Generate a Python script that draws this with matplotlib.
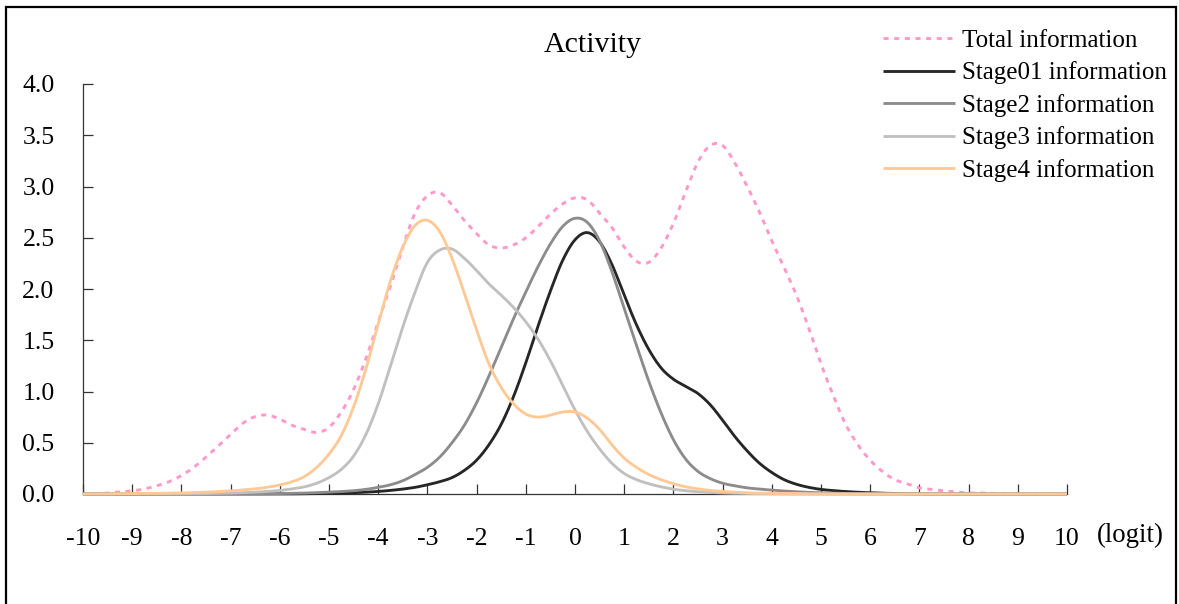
import numpy as np
import matplotlib
matplotlib.use("Agg")
import matplotlib.pyplot as plt
from matplotlib.patches import Rectangle

# Ability scale (logit), 0.25 step
theta = [round(-10 + 0.25 * i, 2) for i in range(81)]

total_info = [
    0.00, 0.00, 0.01, 0.02, 0.03, 0.05, 0.08, 0.12,            # -10 .. -8.25
    0.18, 0.26, 0.36, 0.47, 0.58, 0.69, 0.755, 0.77,          # -8 .. -6.25
    0.73, 0.67, 0.63, 0.60, 0.65, 0.80, 1.02, 1.32,           # -6 .. -4.25
    1.68, 2.03, 2.41, 2.74, 2.91, 2.94, 2.82, 2.67,           # -4 .. -2.25
    2.54, 2.43, 2.40, 2.43, 2.50, 2.61, 2.73, 2.83,           # -2 .. -0.25
    2.89, 2.87, 2.74, 2.60, 2.41, 2.27, 2.26, 2.40,           # 0 .. 1.75
    2.64, 2.95, 3.24, 3.40, 3.40, 3.23, 3.00, 2.75,           # 2 .. 3.75
    2.47, 2.21, 1.94, 1.62, 1.27, 0.96, 0.68, 0.48,           # 4 .. 5.75
    0.33, 0.22, 0.14, 0.10, 0.06, 0.045, 0.03, 0.02,          # 6 .. 7.75
    0.01, 0.01, 0.005, 0.0, 0.0, 0.0, 0.0, 0.0,               # 8 .. 9.75
    0.0,                                                       # 10
]

stage01_info = [
    0.0, 0.0, 0.0, 0.0, 0.0, 0.0, 0.0, 0.0,
    0.0, 0.0, 0.0, 0.0, 0.0, 0.0, 0.0, 0.0,
    0.0, 0.001, 0.002, 0.004, 0.006, 0.009, 0.013, 0.018,
    0.025, 0.035, 0.048, 0.065, 0.09, 0.12, 0.16, 0.23,
    0.33, 0.48, 0.68, 0.95, 1.28, 1.64, 1.98, 2.28,
    2.48, 2.55, 2.46, 2.24, 1.94, 1.65, 1.41, 1.23,
    1.12, 1.05, 0.98, 0.87, 0.72, 0.56, 0.42, 0.30,
    0.21, 0.14, 0.095, 0.065, 0.045, 0.033, 0.024, 0.017,
    0.012, 0.008, 0.005, 0.003, 0.002, 0.001, 0.0, 0.0,
    0.0, 0.0, 0.0, 0.0, 0.0, 0.0, 0.0, 0.0,
    0.0,
]

stage2_info = [
    0.0, 0.0, 0.0, 0.0, 0.0, 0.0, 0.0, 0.0,
    0.0, 0.0, 0.0, 0.0, 0.0, 0.0, 0.001, 0.002,
    0.004, 0.006, 0.009, 0.013, 0.018, 0.024, 0.032, 0.045,
    0.065, 0.09, 0.13, 0.19, 0.26, 0.36, 0.50, 0.67,
    0.89, 1.15, 1.43, 1.71, 1.97, 2.22, 2.44, 2.61,
    2.69, 2.65, 2.47, 2.17, 1.81, 1.45, 1.10, 0.79,
    0.53, 0.34, 0.22, 0.15, 0.105, 0.08, 0.06, 0.048,
    0.038, 0.029, 0.022, 0.016, 0.012, 0.008, 0.005, 0.003,
    0.002, 0.001, 0.0, 0.0, 0.0, 0.0, 0.0, 0.0,
    0.0, 0.0, 0.0, 0.0, 0.0, 0.0, 0.0, 0.0,
    0.0,
]

stage3_info = [
    0.0, 0.0, 0.0, 0.0, 0.0, 0.0, 0.0, 0.0,
    0.001, 0.002, 0.004, 0.006, 0.009, 0.013, 0.018, 0.025,
    0.035, 0.05, 0.07, 0.105, 0.16, 0.24, 0.37, 0.58,
    0.88, 1.25, 1.63, 1.97, 2.26, 2.38, 2.39, 2.30,
    2.18, 2.05, 1.94, 1.82, 1.68, 1.51, 1.30, 1.06,
    0.82, 0.61, 0.44, 0.30, 0.20, 0.14, 0.10, 0.07,
    0.047, 0.032, 0.022, 0.015, 0.01, 0.007, 0.005, 0.004,
    0.003, 0.002, 0.001, 0.0, 0.0, 0.0, 0.0, 0.0,
    0.0, 0.0, 0.0, 0.0, 0.0, 0.0, 0.0, 0.0,
    0.0, 0.0, 0.0, 0.0, 0.0, 0.0, 0.0, 0.0,
    0.0,
]

stage4_info = [
    0.0, 0.001, 0.002, 0.003, 0.004, 0.005, 0.007, 0.008,
    0.01, 0.014, 0.018, 0.024, 0.03, 0.04, 0.05, 0.066,
    0.088, 0.12, 0.17, 0.26, 0.39, 0.57, 0.85, 1.22,
    1.66, 2.08, 2.41, 2.62, 2.67, 2.56, 2.30, 1.96,
    1.60, 1.27, 1.04, 0.88, 0.78, 0.75, 0.77, 0.80,
    0.80, 0.74, 0.63, 0.48, 0.35, 0.26, 0.19, 0.14,
    0.10, 0.07, 0.05, 0.035, 0.025, 0.018, 0.012, 0.008,
    0.006, 0.004, 0.003, 0.002, 0.001, 0.0, 0.0, 0.0,
    0.0, 0.0, 0.0, 0.0, 0.0, 0.0, 0.0, 0.0,
    0.0, 0.0, 0.0, 0.0, 0.0, 0.0, 0.0, 0.0,
    0.0,
]

series_labels = ["Total information", "Stage01 information", "Stage2 information",
                 "Stage3 information", "Stage4 information"]
series_colors = ["#ff99cc", "#262626", "#8c8c8c", "#c0c0c0", "#ffc996"]

x_ticks = list(range(-10, 11))
y_ticks = [0.0, 0.5, 1.0, 1.5, 2.0, 2.5, 3.0, 3.5, 4.0]


def smooth(x, y, n=12):
    """Catmull-Rom smoothing through the given points (spreadsheet-style smoothed line)."""
    x = np.asarray(x, float)
    y = np.asarray(y, float)
    px = np.concatenate([[2 * x[0] - x[1]], x, [2 * x[-1] - x[-2]]])
    py = np.concatenate([[y[0]], y, [y[-1]]])
    xs, ys = [], []
    t = np.linspace(0, 1, n, endpoint=False)
    for i in range(1, len(px) - 2):
        p0, p1, p2, p3 = py[i - 1], py[i], py[i + 1], py[i + 2]
        q0, q1, q2, q3 = px[i - 1], px[i], px[i + 1], px[i + 2]
        t2, t3 = t * t, t * t * t
        ys.append(0.5 * (2 * p1 + (-p0 + p2) * t + (2 * p0 - 5 * p1 + 4 * p2 - p3) * t2
                         + (-p0 + 3 * p1 - 3 * p2 + p3) * t3))
        xs.append(0.5 * (2 * q1 + (-q0 + q2) * t + (2 * q0 - 5 * q1 + 4 * q2 - q3) * t2
                         + (-q0 + 3 * q1 - 3 * q2 + q3) * t3))
    xs.append([x[-1]])
    ys.append([y[-1]])
    return np.concatenate(xs), np.clip(np.concatenate(ys), 0, None)


plt.rcParams["font.family"] = ["Liberation Serif", "DejaVu Serif"]
plt.rcParams["font.size"] = 18

W, H = 1179, 604
fig = plt.figure(figsize=(W / 100, H / 100), dpi=100)
fig.patch.set_facecolor("white")

# outer frame (bottom edge runs off the canvas)
fig.patches.append(Rectangle((6 / W, -0.05), (1176 - 6) / W, 1.05 - 7 / H,
                             transform=fig.transFigure, fill=False,
                             edgecolor="black", linewidth=1.6))

ax = fig.add_axes([83 / W, (H - 494) / H, (1067 - 83) / W, (494 - 84) / H])
ax.set_xlim(-10, 10)
ax.set_ylim(0, 4.0)

all_series = [total_info, stage01_info, stage2_info, stage3_info, stage4_info]
for k, (vals, lab, col) in enumerate(zip(all_series, series_labels, series_colors)):
    sx, sy = smooth(theta, vals)
    if k == 0:
        ax.plot(sx, sy, color=col, lw=2.1, linestyle=(0, (1.75, 1.9)),
                dash_capstyle="butt", label=lab, clip_on=False, zorder=3)
    else:
        ax.plot(sx, sy, color=col, lw=2.05, label=lab, clip_on=False,
                zorder=3 + k, solid_capstyle="butt")

for side in ("top", "right"):
    ax.spines[side].set_visible(False)
ax.spines["left"].set_color("#333333")
ax.spines["bottom"].set_color("#333333")
ax.spines["left"].set_linewidth(0.9)
ax.spines["bottom"].set_linewidth(0.9)

ax.set_xticks(x_ticks)
ax.set_xticklabels([str(v) for v in x_ticks], fontsize=18.5)
ax.set_yticks(y_ticks)
ax.set_yticklabels([f"{v:.1f}" for v in y_ticks], fontsize=18.5)
ax.tick_params(axis="x", direction="in", length=7, width=0.9, color="#333333", pad=24.3)
ax.tick_params(axis="y", direction="in", length=7, width=0.9, color="#333333", pad=20.5)

fig.text(593 / W, 1 - 45 / H, "Activity", ha="center", va="center", fontsize=21.5)
fig.text(1130.5 / W, 1 - 535 / H, "(logit)", ha="center", va="center", fontsize=19.3)

leg = ax.legend(loc="upper left", bbox_to_anchor=(883 / W, 1 - 29.5 / H),
                bbox_transform=fig.transFigure, frameon=False,
                handlelength=2.88, handletextpad=0.28, labelspacing=0.38,
                borderaxespad=0, borderpad=0, fontsize=18)

fig.savefig("out.png", dpi=100, facecolor="white")
